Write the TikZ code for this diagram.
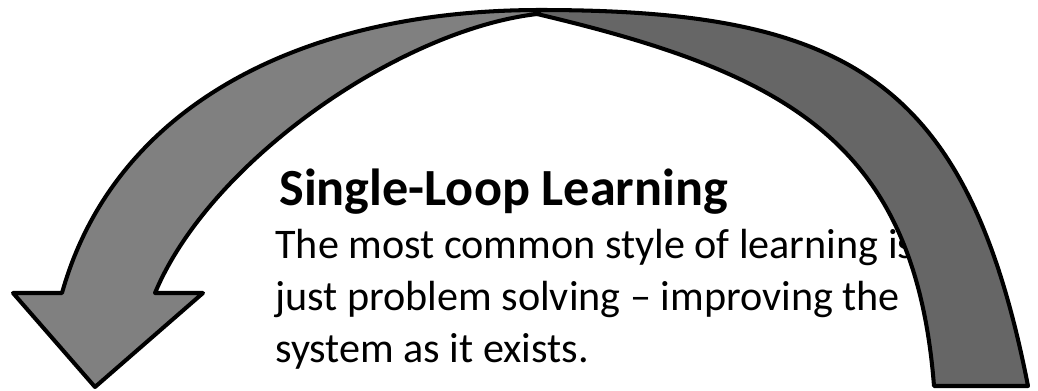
\documentclass[tikz,border=0pt]{standalone}
\usepackage{fontspec}
\setmainfont{Carlito}
\usepackage{tikz}
\usetikzlibrary{calc}

\begin{document}
\begin{tikzpicture}[x=0.02cm,y=-0.02cm,
  arrowpart/.style={draw=black,line width=2.3pt,line join=round},
  headtext/.style={anchor=base west,inner sep=0pt,font=\fontsize{29.7}{36}\selectfont\bfseries},
  bodytext/.style={anchor=base west,inner sep=0pt,align=left,font=\fontsize{24}{29.5}\selectfont}]
\useasboundingbox (0,0) rectangle (1038,390);
\node[headtext] (title) at (279,205) {Single-Loop Learning};
\node[bodytext] (body) at (275,362) {The most common style of learning is\\
  just problem solving -- improving the\\
  system as it exists.};
% back half of the loop
\filldraw[arrowpart,fill=black!60] (540,10) .. controls (850,10) and (968,81) .. (1028,386)
  -- (934,386) .. controls (915,142) and (787,73) .. (537,14) -- cycle;
% front half with the head
\filldraw[arrowpart,fill=black!50] (540,10) .. controls (300,10) and (114,107) .. (62,293)
  -- (13,293) -- (95,387) -- (203,293) -- (155,293)
  .. controls (210,161) and (400,30) .. (537,14) -- cycle;
\end{tikzpicture}
\end{document}
